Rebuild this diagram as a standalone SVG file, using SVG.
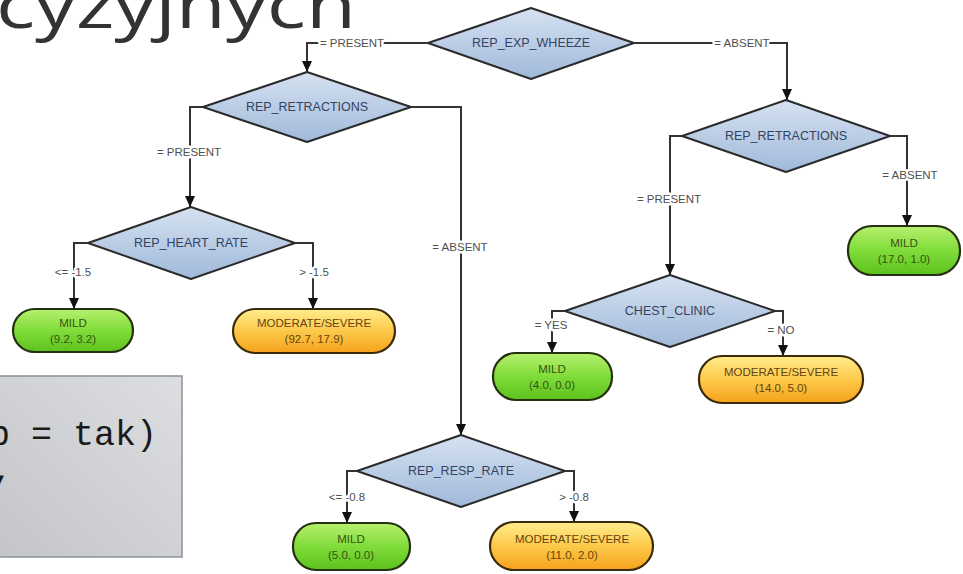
<svg xmlns="http://www.w3.org/2000/svg" width="963" height="574" viewBox="0 0 963 574">
<style>
.title{font-family:"Open Sans","DejaVu Sans",sans-serif;font-size:64px;fill:#333}
.code{font-family:"Liberation Mono","DejaVu Sans Mono",monospace;font-size:35px;fill:#1a1a1a}
.dia{fill:url(#gBlue);stroke:#2b2b2b;stroke-width:2;stroke-linejoin:round}
.dt{font-family:"Liberation Sans",Arial,sans-serif;font-size:12.5px;fill:#34435f;text-anchor:middle;dominant-baseline:central}
.green{fill:url(#gGreen);stroke:#24300f;stroke-width:2.2}
.orange{fill:url(#gOrange);stroke:#3a2a0a;stroke-width:2.2}
.lt{font-family:"Liberation Sans",Arial,sans-serif;font-size:11.5px;text-anchor:middle}
.ltg{fill:#35540f}
.lto{fill:#654410}
.edge{fill:none;stroke:#333;stroke-width:2;marker-end:url(#arr)}
.el{font-family:"Liberation Sans",Arial,sans-serif;font-size:11.5px;fill:#505050;text-anchor:middle;dominant-baseline:central;stroke:#fff;stroke-width:5;paint-order:stroke;stroke-linejoin:round}
</style>
<defs>
<linearGradient id="gBlue" x1="0" y1="0" x2="0" y2="1"><stop offset="0" stop-color="#d6e2f1"/><stop offset="1" stop-color="#a0b9da"/></linearGradient>
<linearGradient id="gGreen" x1="0" y1="0" x2="0" y2="1"><stop offset="0" stop-color="#b6f06e"/><stop offset="0.5" stop-color="#80dc3a"/><stop offset="1" stop-color="#5cc21e"/></linearGradient>
<linearGradient id="gOrange" x1="0" y1="0" x2="0" y2="1"><stop offset="0" stop-color="#ffed8e"/><stop offset="0.5" stop-color="#fdc94a"/><stop offset="1" stop-color="#f5a21c"/></linearGradient>
<linearGradient id="gGray" x1="0" y1="1" x2="1" y2="0"><stop offset="0" stop-color="#c3c5c9"/><stop offset="1" stop-color="#dcdee0"/></linearGradient>
<marker id="arr" markerUnits="userSpaceOnUse" markerWidth="12" markerHeight="10" refX="11" refY="5" orient="auto"><path d="M0,0 L11,5 L0,10 z" fill="#111"/></marker>
</defs>

<text class="title" x="-4" y="28" textLength="360" lengthAdjust="spacingAndGlyphs">cyzyjnych</text>

<g id="codebox">
<rect x="-3" y="376" width="185" height="181" fill="url(#gGray)" stroke="#8a929c" stroke-width="1.5"/>
<text class="code" x="-11" y="445">p = tak)</text>
<text class="code" x="-8" y="481">,</text>
</g>

<g id="connectors">
<polyline class="edge" points="428,43 307,43 307,72"/>
<polyline class="edge" points="634,43 787,43 787,100"/>
<polyline class="edge" points="203,107 190,107 190,207"/>
<polyline class="edge" points="411,107 461,107 461,435"/>
<polyline class="edge" points="88,243 74,243 74,309"/>
<polyline class="edge" points="295,243 313,243 313,309"/>
<polyline class="edge" points="682,136 670,136 670,275"/>
<polyline class="edge" points="890,136 907,136 907,226"/>
<polyline class="edge" points="565,311 552,311 552,353"/>
<polyline class="edge" points="775,311 783,311 783,356"/>
<polyline class="edge" points="357,471 347,471 347,523"/>
<polyline class="edge" points="565,471 574,471 574,522"/>
<text class="el" x="352" y="43">= PRESENT</text>
<text class="el" x="742" y="43">= ABSENT</text>
<text class="el" x="189" y="152">= PRESENT</text>
<text class="el" x="460" y="247">= ABSENT</text>
<text class="el" x="73" y="272">&lt;= -1.5</text>
<text class="el" x="314" y="272">&gt; -1.5</text>
<text class="el" x="669" y="199">= PRESENT</text>
<text class="el" x="910" y="175">= ABSENT</text>
<text class="el" x="551" y="325">= YES</text>
<text class="el" x="781" y="330">= NO</text>
<text class="el" x="347" y="497">&lt;= -0.8</text>
<text class="el" x="574" y="497">&gt; -0.8</text>
</g>

<g id="n_root"><polygon class="dia" points="428,43 531,8 634,43 531,79"/><text class="dt" x="531" y="43">REP_EXP_WHEEZE</text></g>
<g id="n_retr_l"><polygon class="dia" points="203,107 307,72 411,107 307,142"/><text class="dt" x="307" y="107">REP_RETRACTIONS</text></g>
<g id="n_retr_r"><polygon class="dia" points="682,136 786,100 890,136 786,172"/><text class="dt" x="786" y="136">REP_RETRACTIONS</text></g>
<g id="n_heart"><polygon class="dia" points="88,243 191,207 295,243 191,279"/><text class="dt" x="191" y="243">REP_HEART_RATE</text></g>
<g id="n_chest"><polygon class="dia" points="565,311 670,275 775,311 670,347"/><text class="dt" x="670" y="311">CHEST_CLINIC</text></g>
<g id="n_resp"><polygon class="dia" points="357,471 461,435 565,471 461,507"/><text class="dt" x="461" y="471">REP_RESP_RATE</text></g>

<g id="leaf1"><rect class="green" x="13" y="309" width="120" height="43" rx="21.5"/><text class="lt ltg" x="73" y="327">MILD</text><text class="lt ltg" x="73" y="343">(9.2, 3.2)</text></g>
<g id="leaf2"><rect class="orange" x="233" y="309" width="162" height="44" rx="22"/><text class="lt lto" x="314" y="327">MODERATE/SEVERE</text><text class="lt lto" x="314" y="343">(92.7, 17.9)</text></g>
<g id="leaf3"><rect class="green" x="848" y="226" width="112" height="49" rx="24"/><text class="lt ltg" x="904" y="247">MILD</text><text class="lt ltg" x="904" y="263">(17.0, 1.0)</text></g>
<g id="leaf4"><rect class="green" x="493" y="353" width="119" height="47" rx="23"/><text class="lt ltg" x="552" y="373">MILD</text><text class="lt ltg" x="552" y="389">(4.0, 0.0)</text></g>
<g id="leaf5"><rect class="orange" x="699" y="356" width="164" height="47" rx="23"/><text class="lt lto" x="781" y="376">MODERATE/SEVERE</text><text class="lt lto" x="781" y="392">(14.0, 5.0)</text></g>
<g id="leaf6"><rect class="green" x="293" y="523" width="117" height="47" rx="23"/><text class="lt ltg" x="351" y="543">MILD</text><text class="lt ltg" x="351" y="559">(5.0, 0.0)</text></g>
<g id="leaf7"><rect class="orange" x="490" y="522" width="163" height="48" rx="24"/><text class="lt lto" x="572" y="543">MODERATE/SEVERE</text><text class="lt lto" x="572" y="559">(11.0, 2.0)</text></g>
</svg>
